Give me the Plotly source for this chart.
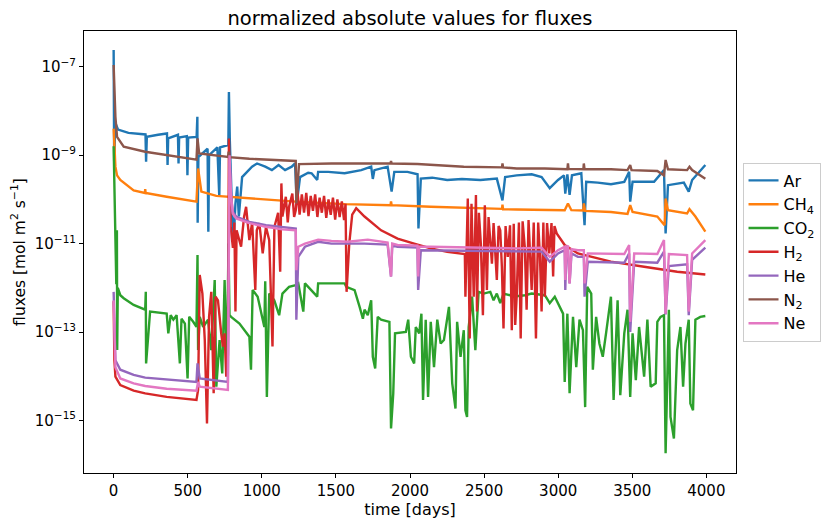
import plotly.graph_objects as go

# values (time in days, flux in mol m^2 s^-1)
ar_days = [0, 4, 10, 30, 100, 215, 219, 224, 300, 360, 364, 368, 434, 438, 442, 494, 498, 503,
           560, 565, 567, 572, 634, 639, 644, 700, 713, 718, 774, 778, 784, 800, 811, 822, 834,
           845, 867, 890, 934, 968, 1023, 1068, 1113, 1157, 1202, 1224, 1236, 1258, 1313, 1336,
           1374, 1380, 1448, 1559, 1671, 1738, 1749, 1760, 1849, 1876, 1894, 1983, 2051, 2057,
           2073, 2150, 2251, 2350, 2475, 2586, 2624, 2642, 2720, 2821, 2888, 2943, 2999, 3039,
           3048, 3062, 3077, 3093, 3156, 3178, 3189, 3267, 3356, 3446, 3479, 3486, 3502, 3647,
           3714, 3725, 3741, 3848, 3881, 3904, 3993]
ar_flux = [2.4e-7, 4.5e-10, 5.6e-9, 3.8e-9, 3.2e-9, 2.95e-9, 7.1e-10, 2.6e-9, 2.9e-9, 3.1e-9,
           6.0e-10, 2.4e-9, 2.9e-9, 6.5e-10, 2.5e-9, 2.7e-9, 3.5e-10, 2.5e-9, 2.6e-9, 7.4e-9,
           2.95e-11, 9.1e-10, 1.4e-9, 1.86e-11, 1.0e-9, 1.5e-9, 1.15e-10, 1.5e-9, 1.7e-9, 2.7e-8,
           2.2e-9, 4.1e-11, 1.4e-11, 8.1e-11, 1.95e-10, 4.1e-11, 3.2e-10, 3.9e-10, 5.5e-10,
           6.5e-10, 5.5e-10, 4.6e-10, 6.0e-10, 4.6e-10, 5.5e-10, 6.5e-10, 8.1e-11, 3.2e-10,
           4.0e-10, 3.9e-10, 2.75e-10, 4.2e-10, 4.2e-10, 3.9e-10, 4.6e-10, 5.5e-10, 2.9e-10,
           4.6e-10, 5.5e-10, 1.5e-10, 4.2e-10, 4.2e-10, 3.7e-10, 2.2e-11, 2.95e-10, 3.1e-10,
           2.75e-10, 2.9e-10, 2.75e-10, 2.95e-10, 9.5e-11, 3.2e-10, 3.5e-10, 3.7e-10, 3.2e-10,
           1.8e-10, 2.75e-10, 3.5e-10, 1.35e-10, 3.7e-10, 1.26e-10, 3.5e-10, 3.9e-10, 2.6e-11,
           2.5e-10, 2.4e-10, 2.2e-10, 2.5e-10, 4.2e-10, 8.9e-11, 2.5e-10, 2.5e-10, 4.6e-10,
           1.7e-11, 2.1e-10, 2.4e-10, 1.5e-10, 2.75e-10, 6.0e-10]

ch4_days = [0, 12, 23, 45, 135, 211, 213, 216, 358, 470, 559, 570, 592, 693, 916, 1229, 1559,
            1869, 1872, 1876, 2140, 2363, 2621, 2624, 2628, 2720, 2910, 3044, 3066, 3089, 3170,
            3173, 3182, 3356, 3468, 3486, 3502, 3669, 3718, 3725, 3741, 3870, 3886, 3926, 3993]
ch4_flux = [4.0e-9, 5.5e-10, 3.5e-10, 2.75e-10, 1.6e-10, 1.4e-10, 1.7e-10, 1.4e-10, 1.15e-10,
            1.0e-10, 8.9e-11, 5.0e-10, 1.5e-10, 1.2e-10, 1.05e-10, 8.9e-11, 7.8e-11, 7.4e-11,
            9.0e-11, 7.4e-11, 6.8e-11, 6.4e-11, 6.1e-11, 7.6e-11, 6.0e-11, 5.9e-11, 5.9e-11,
            5.7e-11, 8.1e-11, 5.7e-11, 5.6e-11, 8.1e-11, 5.5e-11, 5.2e-11, 4.7e-11, 7.4e-11,
            5.2e-11, 4.1e-11, 2.6e-11, 1.05e-10, 5.7e-11, 4.8e-11, 6.0e-11, 4.1e-11, 1.86e-11]

co2_days = [0, 10, 18, 22, 24, 28, 45, 68, 135, 213, 217, 219, 246, 358, 369, 385, 403, 425,
            447, 458, 481, 499, 510, 537, 559, 566, 570, 581, 604, 637, 659, 682, 693, 715, 733,
            749, 764, 775, 782, 793, 849, 916, 927, 938, 972, 1017, 1023, 1034, 1050, 1084, 1117,
            1139, 1184, 1229, 1246, 1280, 1291, 1374, 1380, 1470, 1559, 1570, 1626, 1660, 1682,
            1693, 1715, 1738, 1749, 1765, 1782, 1805, 1861, 1872, 1887, 1899, 1972, 1988, 2006,
            2028, 2039, 2062, 2077, 2088, 2106, 2122, 2140, 2162, 2184, 2207, 2229, 2263, 2285,
            2307, 2318, 2341, 2363, 2374, 2385, 2396, 2419, 2441, 2463, 2497, 2542, 2564, 2586,
            2609, 2631, 2676, 2687, 2776, 2821, 2910, 2943, 2977, 3010, 3033, 3044, 3062, 3077,
            3100, 3122, 3144, 3167, 3182, 3196, 3223, 3234, 3256, 3278, 3301, 3323, 3356, 3374,
            3401, 3419, 3446, 3468, 3486, 3502, 3524, 3546, 3580, 3602, 3624, 3658, 3669, 3691,
            3714, 3725, 3747, 3758, 3781, 3803, 3825, 3843, 3859, 3881, 3892, 3910, 3926, 3959,
            3993]
co2_flux = [1.6e-9, 1.2e-11, 1.2e-12, 2.0e-11, 3.9e-14, 1.0e-12, 6.8e-13, 5.8e-13, 4.1e-13,
            3.2e-13, 8.1e-13, 1.95e-14, 2.9e-13, 2.6e-13, 9.3e-14, 2.4e-13, 1.9e-13, 2.4e-13,
            1.95e-14, 2.0e-13, 1.55e-13, 8.9e-15, 2.2e-13, 1.7e-13, 1.3e-13, 5.5e-12, 3.9e-14,
            2.2e-13, 1.3e-13, 1.9e-13, 3.9e-14, 1.5e-12, 5.8e-15, 6.6e-14, 1.15e-14, 1.5e-12,
            1.15e-14, 1.0e-11, 2.4e-13, 2.2e-13, 1.55e-13, 7.8e-14, 1.4e-14, 8.9e-13, 6.3e-13,
            1.3e-13, 1.4e-12, 3.4e-15, 7.4e-13, 5.2e-13, 2.4e-13, 7.4e-13, 1.05e-12, 1.15e-12,
            1.26e-12, 2.9e-13, 1.26e-12, 6.3e-13, 1.26e-12, 1.26e-12, 1.26e-12, 1.05e-12,
            8.9e-13, 3.7e-13, 2.0e-13, 3.2e-13, 2.4e-13, 5.2e-13, 2.75e-14, 1.5e-14, 2.2e-13,
            1.9e-13, 1.7e-13, 6.6e-16, 4.1e-15, 9.3e-14, 1.0e-13, 1.9e-13, 2.75e-14, 1.95e-14,
            1.3e-13, 9.3e-14, 2.6e-13, 2.9e-15, 1.9e-13, 3.4e-15, 1.7e-13, 1.6e-14, 1.9e-13,
            5.5e-14, 6.6e-14, 3.7e-13, 6.9e-15, 1.86e-15, 1.7e-13, 2.75e-14, 1.1e-13, 1.7e-15,
            1.2e-15, 1.3e-13, 6.3e-13, 3.9e-14, 8.1e-13, 7.4e-13, 8.1e-13, 5.2e-13, 7.4e-13,
            4.5e-13, 7.4e-13, 6.8e-13, 6.3e-13, 6.8e-13, 7.4e-13, 6.8e-13, 4.5e-13, 6.3e-13,
            3.7e-13, 2.6e-13, 7.4e-15, 2.6e-13, 4.1e-15, 2.2e-13, 1.6e-14, 1.9e-13, 1.1e-13,
            2.0e-15, 1.05e-12, 7.4e-13, 1.4e-14, 2.2e-13, 5.5e-14, 2.75e-14, 9.3e-14, 6.3e-13,
            2.9e-15, 5.2e-13, 3.7e-15, 9.3e-14, 3.2e-13, 3.4e-15, 9.3e-14, 8.1e-15, 1.3e-13,
            9.8e-15, 1.9e-13, 5.8e-15, 6.9e-15, 1.7e-13, 2.2e-13, 2.4e-13, 1.8e-16, 3.2e-13,
            1.2e-15, 3.9e-16, 3.9e-14, 1.3e-13, 5.8e-15, 5.5e-14, 1.9e-13, 2.4e-15, 1.7e-15,
            1.9e-13, 2.2e-13, 2.3e-13]

h2_days = [0, 5, 12, 45, 135, 213, 358, 559, 570, 581, 599, 615, 630, 644, 659, 675, 688, 704,
           726, 737, 749, 760, 771, 778, 790, 805, 815, 822, 830, 860, 880, 894, 916, 935, 956,
           966, 983, 1006, 1028, 1050, 1072, 1085, 1110, 1124, 1132, 1139, 1162, 1175, 1184,
           1206, 1218, 1229, 1240, 1255, 1270, 1285, 1300, 1315, 1330, 1345, 1360, 1375, 1390,
           1405, 1420, 1435, 1450, 1465, 1480, 1495, 1510, 1525, 1540, 1555, 1565, 1572, 1590,
           1610, 1637, 1693, 1805, 1916, 2028, 2140, 2251, 2363, 2370, 2374, 2390, 2403, 2415,
           2430, 2445, 2452, 2465, 2478, 2492, 2505, 2519, 2530, 2553, 2564, 2575, 2586, 2598,
           2609, 2620, 2631, 2645, 2660, 2675, 2687, 2700, 2710, 2720, 2735, 2747, 2760, 2775,
           2787, 2800, 2810, 2821, 2835, 2850, 2865, 2877, 2888, 2900, 2910, 2925, 2940, 2955,
           2966, 2975, 2990, 3044, 3133, 3356, 3580, 3803, 3993]
h2_flux = [5.0e-13, 2.3e-14, 9.8e-15, 6.3e-15, 4.7e-15, 4.1e-15, 3.4e-15, 2.9e-15, 4.9e-15,
           1.95e-12, 7.4e-13, 6.6e-14, 8.5e-16, 2.2e-13, 8.1e-13, 4.1e-15, 6.3e-13, 5.2e-13,
           9.3e-14, 4.7e-14, 9.3e-14, 9.8e-15, 3.0e-14, 2.4e-9, 2.4e-11, 8.0e-12, 3.0e-11,
           2.9e-13, 2.0e-11, 8.5e-12, 4.0e-11, 6.8e-11, 1.2e-11, 3.0e-11, 8.9e-13, 2.0e-11,
           2.9e-11, 6.0e-12, 2.4e-11, 1.2e-11, 4.7e-14, 2.4e-11, 5.0e-11, 2.3e-12, 2.3e-10,
           4.1e-11, 1.15e-10, 3.0e-11, 6.8e-11, 1.35e-10, 4.0e-11, 5.7e-11, 1.6e-10, 4.5e-11,
           1.3e-10, 5.0e-11, 1.4e-10, 4.2e-11, 1.2e-10, 5.5e-11, 1.3e-10, 4.0e-11, 1.1e-10,
           5.0e-11, 1.2e-10, 3.8e-11, 1.0e-10, 4.5e-11, 1.1e-10, 3.5e-11, 1.0e-10, 4.0e-11,
           9.0e-11, 3.4e-11, 8.0e-11, 8.1e-13, 1.0e-11, 4.5e-11, 6.3e-11, 4.1e-11, 2.0e-11,
           1.3e-11, 1.0e-11, 7.8e-12, 6.5e-12, 5.8e-12, 5.8e-12, 6.3e-13, 1.05e-10, 7.1e-14,
           8.0e-11, 6.3e-13, 1.26e-10, 2.9e-13, 5.0e-11, 1.0e-11, 2.4e-13, 7.4e-11, 8.9e-13,
           4.0e-11, 3.5e-12, 2.9e-11, 5.0e-12, 1.5e-12, 2.5e-11, 2.0e-11, 3.0e-12, 1.2e-13,
           2.5e-11, 5.0e-12, 2.6e-11, 1.1e-13, 2.8e-11, 1.45e-13, 6.3e-13, 3.0e-11, 7.1e-14,
           3.2e-11, 8.0e-12, 3.2e-13, 3.4e-11, 4.0e-12, 8.9e-13, 3.0e-11, 7.1e-14, 3.0e-11,
           5.0e-12, 2.9e-13, 3.0e-11, 6.3e-13, 2.9e-11, 6.0e-12, 2.9e-11, 1.8e-12, 2.5e-11,
           1.7e-11, 9.3e-12, 6.0e-12, 3.9e-12, 3.0e-12, 2.3e-12, 2.0e-12]

he_days = [0, 5, 12, 45, 135, 213, 358, 559, 566, 581, 771, 782, 793, 804, 827, 916, 1028,
           1139, 1229, 1233, 1246, 1291, 1380, 1470, 1693, 1849, 1872, 1880, 1916, 2050, 2055,
           2073, 2363, 2586, 2720, 2888, 2943, 2999, 3044, 3048, 3055, 3066, 3077, 3090, 3133,
           3173, 3178, 3200, 3446, 3479, 3486, 3513, 3669, 3714, 3725, 3747, 3870, 3881, 3904,
           3993]
he_flux = [8.1e-13, 9.3e-14, 2.3e-14, 1.4e-14, 1.07e-14, 9.3e-15, 8.5e-15, 7.4e-15, 1.95e-14,
           8.9e-15, 7.4e-15, 7.9e-10, 1.15e-10, 5.2e-11, 4.1e-11, 3.1e-11, 2.6e-11, 2.4e-11,
           2.2e-11, 1.9e-13, 5.0e-12, 8.5e-12, 1.1e-11, 1.0e-11, 1.0e-11, 9.5e-12, 1.8e-12,
           9.0e-12, 8.5e-12, 8.1e-12, 8.9e-13, 7.1e-12, 6.9e-12, 6.9e-12, 6.9e-12, 6.6e-12,
           3.9e-12, 6.0e-12, 7.1e-12, 8.9e-13, 7.1e-12, 7.1e-12, 1.26e-12, 6.0e-12, 5.0e-12,
           5.0e-12, 6.3e-13, 3.9e-12, 3.7e-12, 6.0e-12, 1.0e-13, 3.9e-12, 3.7e-12, 6.6e-12,
           2.5e-13, 3.1e-12, 3.4e-12, 2.4e-13, 4.3e-12, 8.1e-12]

n2_days = [0, 12, 23, 68, 213, 358, 559, 566, 577, 772, 776, 780, 916, 1229, 1233, 1251, 1470,
           1869, 1872, 1876, 2050, 2363, 2621, 2624, 2628, 2720, 2910, 3062, 3066, 3070, 3170,
           3173, 3178, 3356, 3468, 3486, 3495, 3669, 3714, 3725, 3741, 3870, 3886, 3904, 3993]
n2_flux = [1.1e-7, 7.4e-9, 2.6e-9, 1.55e-9, 1.2e-9, 1.0e-9, 7.9e-10, 2.4e-9, 1.1e-9, 9.1e-10,
           1.2e-9, 9.0e-10, 8.3e-10, 7.4e-10, 8.1e-11, 6.3e-10, 6.5e-10, 6.5e-10, 7.4e-10,
           6.5e-10, 6.3e-10, 5.5e-10, 5.3e-10, 6.5e-10, 5.3e-10, 5.0e-10, 5.0e-10, 4.8e-10,
           6.5e-10, 4.9e-10, 4.8e-10, 6.5e-10, 4.8e-10, 4.8e-10, 4.6e-10, 6.0e-10, 4.6e-10,
           4.4e-10, 3.5e-10, 7.8e-10, 4.8e-10, 4.6e-10, 5.5e-10, 4.6e-10, 2.95e-10]

ne_days = [0, 5, 12, 45, 135, 213, 358, 559, 570, 581, 771, 782, 793, 804, 827, 916, 1028,
           1139, 1229, 1233, 1246, 1291, 1380, 1470, 1581, 1715, 1849, 1872, 1880, 1916, 2050,
           2055, 2062, 2140, 2363, 2586, 2720, 2888, 2943, 2999, 3044, 3048, 3055, 3066, 3077,
           3090, 3133, 3173, 3178, 3200, 3446, 3479, 3486, 3513, 3669, 3714, 3725, 3747, 3870,
           3881, 3904, 3993]
ne_flux = [5.2e-13, 4.7e-14, 1.6e-14, 8.9e-15, 6.9e-15, 6.0e-15, 5.2e-15, 4.7e-15, 7.4e-15,
           5.8e-15, 4.9e-15, 1.0e-9, 1.15e-10, 4.8e-11, 3.7e-11, 2.9e-11, 2.4e-11, 2.1e-11,
           2.0e-11, 2.5e-12, 8.5e-12, 1.0e-11, 1.23e-11, 1.15e-11, 1.1e-11, 1.23e-11, 1.05e-11,
           1.8e-12, 1.0e-11, 9.3e-12, 9.0e-12, 1.8e-12, 8.5e-12, 8.5e-12, 8.3e-12, 7.8e-12,
           7.8e-12, 8.1e-12, 5.0e-12, 7.1e-12, 8.5e-12, 1.5e-12, 8.5e-12, 9.0e-12, 1.26e-12,
           7.5e-12, 7.1e-12, 7.1e-12, 1.26e-12, 6.0e-12, 5.8e-12, 9.3e-12, 1.7e-13, 6.0e-12,
           5.8e-12, 1.2e-11, 2.6e-13, 5.8e-12, 5.5e-12, 2.9e-13, 6.0e-12, 1.2e-11]

series = [
    ("Ar", ar_days, ar_flux, "#1f77b4"),
    ("CH<sub>4</sub>", ch4_days, ch4_flux, "#ff7f0e"),
    ("CO<sub>2</sub>", co2_days, co2_flux, "#2ca02c"),
    ("H<sub>2</sub>", h2_days, h2_flux, "#d62728"),
    ("He", he_days, he_flux, "#9467bd"),
    ("N<sub>2</sub>", n2_days, n2_flux, "#8c564b"),
    ("Ne", ne_days, ne_flux, "#e377c2"),
]

y_ticks = [1e-7, 1e-9, 1e-11, 1e-13, 1e-15]
y_ticktext = ["10<sup>\u22127</sup>", "10<sup>\u22129</sup>", "10<sup>\u221211</sup>",
              "10<sup>\u221213</sup>", "10<sup>\u221215</sup>"]
x_ticks = [0, 500, 1000, 1500, 2000, 2500, 3000, 3500, 4000]

fig = go.Figure()
for name, days, flux, color in series:
    fig.add_trace(go.Scatter(x=days, y=flux, mode="lines", name=name,
                             line=dict(color=color, width=2.4)))

axis_style = dict(showline=True, linecolor="black", linewidth=1, mirror=True,
                  ticks="outside", ticklen=4, tickcolor="black", showgrid=False,
                  zeroline=False, automargin=False, tickfont=dict(size=15, color="black"))

fig.update_layout(
    width=833, height=519,
    margin=dict(l=84, r=92, t=31, b=46),
    paper_bgcolor="white", plot_bgcolor="white",
    font=dict(family="DejaVu Sans", size=14, color="black"),
    title=dict(text="normalized absolute values for fluxes", x=0.5, xref="paper",
               y=0.965, yref="container", yanchor="middle", font=dict(size=19.5)),
    xaxis=dict(range=[-200, 4200], tickvals=x_ticks,
               title=dict(text="time [days]", standoff=2, font=dict(size=16)), **axis_style),
    yaxis=dict(type="log", range=[-16.19, -6.19], tickvals=y_ticks, ticktext=y_ticktext,
               title=dict(text="fluxes [mol m<sup>2</sup> s<sup>\u22121</sup>]", standoff=5,
                          font=dict(size=15.5)), **axis_style),
    legend=dict(x=1.01, xanchor="left", y=0.5, yanchor="middle",
                bordercolor="#cccccc", borderwidth=1, font=dict(size=16),
                itemwidth=30),
    showlegend=True,
)

# the page's default body margin would push the figure 8px down and right
fig.write_html("out.html", config={"displayModeBar": False},
               post_script="document.body.style.margin = '0px';")
